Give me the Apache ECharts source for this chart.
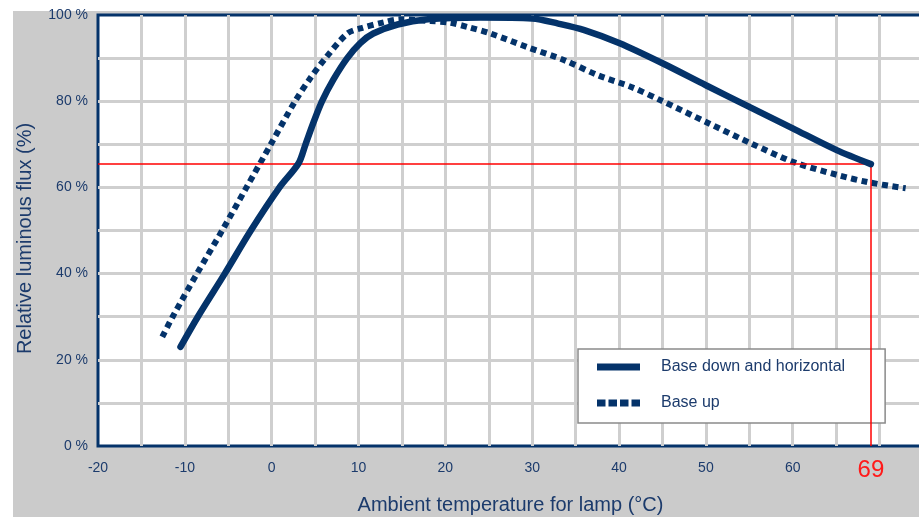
<!DOCTYPE html>
<html>
<head>
<meta charset="utf-8">
<script src="https://cdn.jsdelivr.net/npm/echarts@6/dist/echarts.min.js"></script>
<style>
  html, body { margin: 0; padding: 0; background: #ffffff; }
  #chart { width: 919px; height: 517px; }
</style>
</head>
<body>
<div id="chart"></div>
<script>
// ---- data ----
const seriesNames = ['Base down and horizontal', 'Base up'];

const baseDownTemp = [-10.5, -8.5, -5.4, -2.4, 0.9, 3.1, 3.9, 4.8, 5.8, 7.1, 8.7, 10.2, 11.7, 14.5, 18, 24, 30, 33, 36, 40, 45, 50, 55, 60, 65, 69];
const baseDownFlux = [23, 30, 40, 50, 60, 65.6, 70, 75, 80, 85, 90, 93.5, 95.7, 97.8, 99, 99.4, 99.2, 98, 96.5, 93.5, 88.8, 83.7, 78.7, 73.7, 68.7, 65.4];

const baseUpTemp = [-12.6, -11.4, -8.6, -5.7, -2.9, -0.1, 2.7, 4.5, 6.2, 8.7, 10.2, 12.9, 14.8, 18.3, 20.5, 22.6, 25.2, 29.5, 33.7, 37.6, 41.4, 44.8, 50.3, 55.2, 60.2, 65.3, 68.7, 73];
const baseUpFlux = [25.3, 30, 40, 50, 60, 70, 80, 85.5, 90, 95.7, 96.9, 98.3, 99, 98.6, 98.2, 97.2, 95.7, 92.5, 89.5, 86, 83.3, 80.2, 74.9, 70.2, 65.8, 62.8, 61.2, 59.8];

const xTickLabels = [-20, -10, 0, 10, 20, 30, 40, 50, 60];
const yTickLabels = [0, 20, 40, 60, 80, 100];

const refTemp = 69;   // marked temperature
const refFlux = 65.4; // marked flux

const xRange = [-20, 75];
const yRange = [0, 100];

// ---- chart ----
const navy = '#04336a';
const textNavy = '#1c3b6c';
const font = 'Liberation Sans, Arial, sans-serif';

const zip = (a, b) => a.map((v, i) => [v, b[i]]);

const chart = echarts.init(document.getElementById('chart'), null, { renderer: 'canvas' });

chart.setOption({
  backgroundColor: '#ffffff',
  animation: false,
  graphic: [{
    type: 'rect',
    left: 13, top: 11,
    shape: { width: 906, height: 506 },
    style: { fill: '#cbcbcb' },
    z: -10, silent: true
  }],
  grid: {
    left: 98, top: 15, width: 825, height: 431,
    containLabel: false,
    outerBoundsMode: 'none',
    show: true,
    backgroundColor: '#ffffff',
    borderColor: navy,
    borderWidth: 3
  },
  legend: {
    orient: 'vertical',
    left: 578, top: 349,
    padding: [10, 40, 12, 19],
    itemGap: 20,
    itemWidth: 43,
    itemHeight: 7,
    selectedMode: false,
    backgroundColor: '#ffffff',
    borderColor: '#8a8a8a',
    borderWidth: 1.5,
    textStyle: { color: textNavy, fontSize: 16, fontFamily: font, padding: [0, 0, 0, 16] },
    data: [
      { name: seriesNames[0], icon: 'rect', itemStyle: { color: navy } },
      { name: seriesNames[1], icon: 'path://M0,0H8.5V7H0Z M11.5,0H20V7H11.5Z M23,0H31.5V7H23Z M34.5,0H43V7H34.5Z', itemStyle: { color: navy } }
    ]
  },
  xAxis: {
    type: 'value',
    min: xRange[0], max: xRange[1], interval: 5,
    name: 'Ambient temperature for lamp (°C)',
    nameLocation: 'middle',
    nameGap: 49,
    nameTextStyle: { color: textNavy, fontSize: 20, fontFamily: font, padding: [0, 0, 0, 0] },
    axisLine: { show: false },
    axisTick: { show: false },
    splitLine: { show: true, showMinLine: false, showMaxLine: false, lineStyle: { color: '#cfcfcf', width: 3 } },
    axisLabel: {
      color: textNavy, fontSize: 14, fontFamily: font, margin: 15,
      formatter: v => xTickLabels.includes(v) ? String(v) : ''
    }
  },
  yAxis: {
    type: 'value',
    min: yRange[0], max: yRange[1], interval: 10,
    name: 'Relative luminous flux (%)',
    nameLocation: 'middle',
    nameGap: 63,
    nameTextStyle: { color: textNavy, fontSize: 20, fontFamily: font, padding: [0, 16, 0, 0] },
    axisLine: { show: false },
    axisTick: { show: false },
    splitLine: { show: true, showMinLine: false, showMaxLine: false, lineStyle: { color: '#cfcfcf', width: 3 } },
    axisLabel: {
      color: textNavy, fontSize: 14, fontFamily: font, margin: 10,
      formatter: v => yTickLabels.includes(v) ? v + ' %' : ''
    }
  },
  series: [
    {
      name: seriesNames[0],
      type: 'line',
      data: zip(baseDownTemp, baseDownFlux),
      showSymbol: false,
      symbol: 'none',
      smooth: 0.3,
      lineStyle: { color: navy, width: 6.5, cap: 'round' },
      itemStyle: { color: navy },
      z: 5,
      markLine: {
        silent: true,
        symbol: 'none',
        animation: false,
        lineStyle: { color: '#ff0000', width: 1.5, type: 'solid' },
        data: [
          [
            { coord: [xRange[0], refFlux], label: { show: false } },
            { coord: [refTemp, refFlux] }
          ],
          [
            { coord: [refTemp, refFlux],
              label: { show: true, position: 'end', formatter: String(refTemp), color: '#ff1a1a', fontSize: 24, fontFamily: font, distance: 12 } },
            { coord: [refTemp, yRange[0]] }
          ]
        ]
      }
    },
    {
      name: seriesNames[1],
      type: 'line',
      data: zip(baseUpTemp, baseUpFlux),
      showSymbol: false,
      symbol: 'none',
      smooth: 0.3,
      lineStyle: { color: navy, width: 6, type: [6, 4.5], cap: 'butt' },
      itemStyle: { color: navy },
      z: 4
    }
  ]
});
</script>
</body>
</html>
